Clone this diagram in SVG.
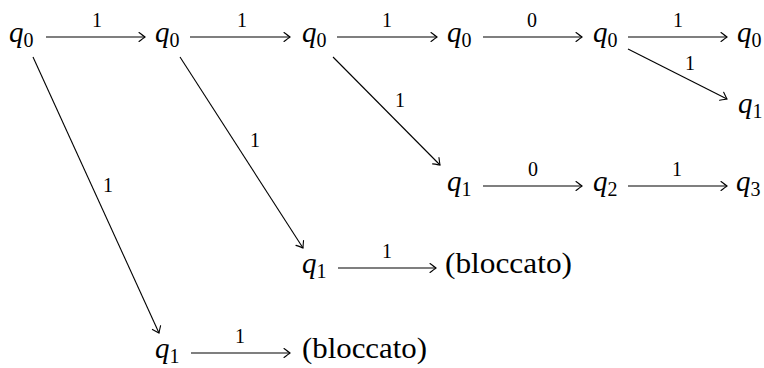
<svg xmlns="http://www.w3.org/2000/svg" width="764" height="368" viewBox="0 0 764 368">
<defs>
<style>
.e{stroke:#000;stroke-width:1.1;fill:none}
</style>
<marker id="ah" markerUnits="userSpaceOnUse" markerWidth="12" markerHeight="12" viewBox="-9 -6 10 12" refX="0" refY="0" orient="auto">
<path d="M-6,-4.5 Q-1.5,-1 0,0 Q-1.5,1 -6,4.5" fill="none" stroke="#000" stroke-width="1.1" stroke-linecap="round"/>
</marker>
</defs>
<rect width="764" height="368" fill="#fff"/>
<g id="a0"><text x="9" y="42" font-family="Liberation Serif" font-size="29"><tspan font-style="italic">q</tspan><tspan font-size="20" dy="5">0</tspan></text></g>
<g id="a1"><text x="155" y="42" font-family="Liberation Serif" font-size="29"><tspan font-style="italic">q</tspan><tspan font-size="20" dy="5">0</tspan></text></g>
<g id="a2"><text x="302" y="42" font-family="Liberation Serif" font-size="29"><tspan font-style="italic">q</tspan><tspan font-size="20" dy="5">0</tspan></text></g>
<g id="a3"><text x="447" y="42" font-family="Liberation Serif" font-size="29"><tspan font-style="italic">q</tspan><tspan font-size="20" dy="5">0</tspan></text></g>
<g id="a4"><text x="593" y="42" font-family="Liberation Serif" font-size="29"><tspan font-style="italic">q</tspan><tspan font-size="20" dy="5">0</tspan></text></g>
<g id="a5"><text x="737" y="42" font-family="Liberation Serif" font-size="29"><tspan font-style="italic">q</tspan><tspan font-size="20" dy="5">0</tspan></text></g>
<g id="u1"><text x="738" y="113" font-family="Liberation Serif" font-size="29"><tspan font-style="italic">q</tspan><tspan font-size="20" dy="5">1</tspan></text></g>
<g id="b1"><text x="447" y="191" font-family="Liberation Serif" font-size="29"><tspan font-style="italic">q</tspan><tspan font-size="20" dy="5">1</tspan></text></g>
<g id="b2"><text x="593" y="191" font-family="Liberation Serif" font-size="29"><tspan font-style="italic">q</tspan><tspan font-size="20" dy="5">2</tspan></text></g>
<g id="b3"><text x="736" y="191" font-family="Liberation Serif" font-size="29"><tspan font-style="italic">q</tspan><tspan font-size="20" dy="5">3</tspan></text></g>
<g id="c1"><text x="302" y="273" font-family="Liberation Serif" font-size="29"><tspan font-style="italic">q</tspan><tspan font-size="20" dy="5">1</tspan></text></g>
<g id="c2"><text x="445" y="273" font-family="Liberation Serif" font-size="30" textLength="127" lengthAdjust="spacingAndGlyphs">(bloccato)</text></g>
<g id="d1"><text x="155" y="358" font-family="Liberation Serif" font-size="29"><tspan font-style="italic">q</tspan><tspan font-size="20" dy="5">1</tspan></text></g>
<g id="d2"><text x="302" y="358" font-family="Liberation Serif" font-size="30" textLength="125" lengthAdjust="spacingAndGlyphs">(bloccato)</text></g>
<g id="edges" marker-end="url(#ah)">
<line class="e" x1="46" y1="37" x2="145" y2="37"/>
<line class="e" x1="190" y1="37" x2="290" y2="37"/>
<line class="e" x1="337" y1="37" x2="437" y2="37"/>
<line class="e" x1="483" y1="37" x2="582" y2="37"/>
<line class="e" x1="628" y1="37" x2="727" y2="37"/>
<line class="e" x1="628" y1="49" x2="727" y2="99"/>
<line class="e" x1="333" y1="57" x2="440" y2="165"/>
<line class="e" x1="180" y1="57" x2="303" y2="248"/>
<line class="e" x1="33" y1="57" x2="159" y2="333"/>
<line class="e" x1="483" y1="186" x2="582" y2="186"/>
<line class="e" x1="628" y1="186" x2="727" y2="186"/>
<line class="e" x1="338" y1="268" x2="436" y2="268"/>
<line class="e" x1="191" y1="353" x2="290" y2="353"/>
</g>
<g id="labels">
<text x="97" y="27" font-family="Liberation Serif" font-size="20" text-anchor="middle">1</text>
<text x="242" y="27" font-family="Liberation Serif" font-size="20" text-anchor="middle">1</text>
<text x="387" y="27" font-family="Liberation Serif" font-size="20" text-anchor="middle">1</text>
<text x="532" y="27" font-family="Liberation Serif" font-size="20" text-anchor="middle">0</text>
<text x="678" y="27" font-family="Liberation Serif" font-size="20" text-anchor="middle">1</text>
<text x="690" y="70" font-family="Liberation Serif" font-size="20" text-anchor="middle">1</text>
<text x="400" y="107" font-family="Liberation Serif" font-size="20" text-anchor="middle">1</text>
<text x="255" y="147" font-family="Liberation Serif" font-size="20" text-anchor="middle">1</text>
<text x="108" y="192" font-family="Liberation Serif" font-size="20" text-anchor="middle">1</text>
<text x="533" y="176" font-family="Liberation Serif" font-size="20" text-anchor="middle">0</text>
<text x="677" y="176" font-family="Liberation Serif" font-size="20" text-anchor="middle">1</text>
<text x="387" y="258" font-family="Liberation Serif" font-size="20" text-anchor="middle">1</text>
<text x="240" y="343" font-family="Liberation Serif" font-size="20" text-anchor="middle">1</text>
</g>
</svg>
